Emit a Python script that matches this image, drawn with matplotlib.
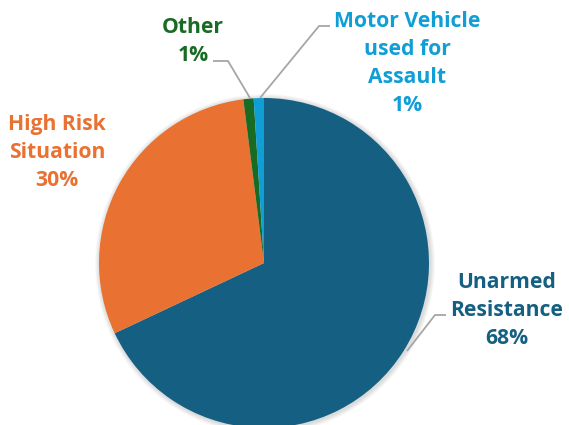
import matplotlib
matplotlib.use("Agg")
import matplotlib.pyplot as plt
from matplotlib.patches import Circle

# ---- data ----
categories = ["Unarmed\nResistance", "High Risk\nSituation", "Other", "Motor Vehicle\nused for\nAssault"]
percent = [68, 30, 1, 1]
pct_labels = ["68%", "30%", "1%", "1%"]
colors = ["#156082", "#E97132", "#196B24", "#0F9ED5"]

# ---- layout (pixel coordinates, top-down y) ----
W, H = 569, 425
cx, cy, r = 264, 263, 165
label_pos = [(507, 281), (57, 123), (193, 26), (407, 20)]
line_gap = 28
leaders = [
    [(407, 351), (435, 315), (446, 315)],
    None,
    [(250, 98), (228, 61), (213, 61)],
    [(260, 98), (319, 26), (330, 26)],
]

plt.rcParams['font.family'] = ['Open Sans', 'DejaVu Sans']

fig = plt.figure(figsize=(W / 100, H / 100), dpi=100)
ax = fig.add_axes([0, 0, 1, 1])

def Y(y):
    return H - y

# soft shadow
for i in range(6):
    ax.add_patch(Circle((cx + 1, Y(cy) - 1), r + 1 + i * 0.8, color='#000000',
                        alpha=0.025, lw=0, zorder=0))

ax.pie(percent, colors=colors, startangle=90, counterclock=False,
       center=(cx, Y(cy)), radius=r, frame=True,
       wedgeprops=dict(linewidth=0, edgecolor='none'))
ax.set_xlim(0, W)
ax.set_ylim(0, H)
ax.set_aspect('equal')
ax.axis('off')

for cat, pl, col, (x, y0), ld in zip(categories, pct_labels, colors, label_pos, leaders):
    lines = cat.split("\n") + [pl]
    for k, t in enumerate(lines):
        yc = y0 + k * line_gap
        ax.text(x, Y(yc + 7.3), t, color=col, fontsize=15.2, fontweight='bold',
                ha='center', va='baseline', zorder=5)
    if ld is not None:
        ax.plot([p[0] for p in ld], [Y(p[1]) for p in ld], color='#A6A6A6',
                lw=1.3, zorder=4, solid_capstyle='butt')

fig.savefig("out.png", dpi=100)
